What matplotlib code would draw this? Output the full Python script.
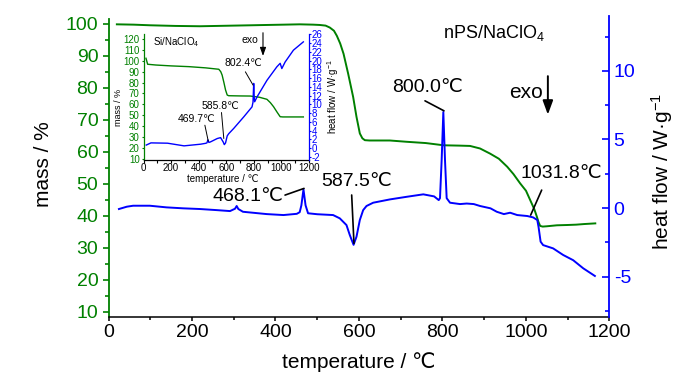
import numpy as np
import matplotlib
matplotlib.use('Agg')
import matplotlib.pyplot as plt
from matplotlib.ticker import MultipleLocator
from matplotlib.transforms import offset_copy

plt.rcParams['font.family'] = ['Liberation Sans', 'DejaVu Sans']
plt.rcParams['mathtext.fontset'] = 'custom'
plt.rcParams['mathtext.rm'] = 'Liberation Sans'
plt.rcParams['mathtext.it'] = 'Liberation Sans:italic'
plt.rcParams['axes.unicode_minus'] = False

GREEN = '#008000'
BLUE = '#0000ff'
NARROW = ['Liberation Sans Narrow', 'Liberation Sans', 'DejaVu Sans']

# ---------------- main data (nPS/NaClO4) ----------------
tga_T = [20, 60, 100, 160, 219, 260, 300, 340, 379, 420, 458, 490, 506, 520, 530, 540, 547, 555,
         563, 574, 586, 594, 602, 608, 614, 625, 640, 674, 714, 760, 803, 840, 866, 890, 914, 935,
         955, 970, 986, 1000, 1010, 1020, 1026, 1030, 1034, 1040, 1050, 1074, 1100, 1120, 1140, 1166]
tga_m = [99.8, 99.7, 99.5, 99.3, 99.2, 99.3, 99.4, 99.5, 99.6, 99.7, 99.8, 99.7, 99.6, 99.4, 98.8,
         97.8, 96.2, 93.8, 90.6, 84.4, 77.1, 70.9, 65.7, 64.2, 63.6, 63.5, 63.5, 63.5, 63.1, 62.7,
         62.0, 61.9, 61.8, 61.0, 59.4, 57.8, 55.3, 53.0, 50.1, 47.8, 44.9, 42.0, 39.7, 38.0, 36.8,
         36.6, 36.7, 37.0, 37.1, 37.2, 37.4, 37.6]

dsc_T = [25, 44, 59, 99, 139, 179, 219, 259, 291, 303, 307, 311, 322, 379, 419, 451, 458, 462,
         467, 472, 478, 500, 538, 554, 570, 578, 587, 594, 602, 610, 618, 634, 674, 714, 754, 780,
         791, 794, 798, 802, 806, 810, 818, 842, 858, 875, 890, 915, 930, 947, 962, 979, 1003,
         1017, 1027, 1030, 1035, 1041, 1065, 1089, 1113, 1137, 1165]
dsc_h = [-0.07, 0.1, 0.17, 0.17, 0.05, -0.02, -0.07, -0.15, -0.22, -0.05, 0.15, -0.07, -0.27,
         -0.44, -0.51, -0.42, -0.3, 0.2, 1.36, 0.2, -0.38, -0.45, -0.51, -0.75, -1.24, -1.97,
         -2.68, -2.09, -0.87, -0.15, 0.15, 0.39, 0.63, 0.82, 1.0, 0.85, 0.58, 0.72, 3.5, 7.0, 3.5,
         0.72, 0.39, 0.29, 0.33, 0.29, 0.15, -0.02, -0.27, -0.44, -0.34, -0.51, -0.58, -0.68,
         -0.87, -1.36, -2.45, -2.7, -2.94, -3.42, -3.8, -4.39, -4.95]

main_ann_T = [468.1, 587.5, 800.0, 1031.8]
main_ann_kind = ['max', 'min', 'max', 'interp']

# ---------------- inset data (Si/NaClO4) ----------------
in_tga_T = [18, 30, 90, 200, 330, 450, 546, 560, 570, 583, 595, 607, 618, 700, 775, 840, 895, 920,
            943, 970, 991, 1010, 1039, 1100, 1159]
in_tga_m = [102.3, 96.8, 96.1, 95.3, 94.6, 93.5, 92.2, 90.0, 86.9, 80.0, 73.1, 68.5, 67.9, 67.7,
            67.6, 66.5, 64.6, 61.5, 57.8, 52.5, 48.6, 48.4, 48.4, 48.4, 48.4]

in_dsc_T = [20, 54, 174, 294, 414, 450, 460, 467, 474, 486, 535, 559, 578, 586, 595, 607, 618,
            654, 727, 787, 794, 799, 803, 806, 823, 895, 967, 991, 1003, 1027, 1087, 1159]
in_dsc_h = [0.7, 1.2, 1.13, 0.52, 0.9, 1.1, 1.2, 1.9, 1.3, 1.43, 2.2, 2.4, 1.4, 0.8, 1.2, 2.8,
            3.3, 4.5, 7.15, 9.44, 10.5, 14.8, 11.5, 10.6, 11.7, 15.5, 18.6, 19.4, 18.2, 19.7,
            22.4, 24.3]

in_ann_T = [469.7, 585.8, 802.4]
in_ann_kind = ['max', 'min', 'max']

x_ticks = [0, 200, 400, 600, 800, 1000, 1200]


def anchor(T, xs, ys, kind, win=12):
    xs = np.asarray(xs, float)
    ys = np.asarray(ys, float)
    sel = np.abs(xs - T) <= win
    if kind == 'max':
        return T, ys[sel].max()
    if kind == 'min':
        return T, ys[sel].min()
    return T, float(np.interp(T, xs, ys))


def leader(axh, pt, start, end, text, text_off, fs, ha='center', lw=1.0):
    tr = offset_copy(axh.transData, fig=fig, x=end[0], y=end[1], units='dots')
    axh.annotate('', xy=pt, xycoords=tr,
                 xytext=(start[0] - end[0], start[1] - end[1]), textcoords='offset pixels',
                 arrowprops=dict(arrowstyle='-', shrinkA=0, shrinkB=0, lw=lw, color='k'))
    axh.annotate(text, xy=pt, xytext=text_off, textcoords='offset pixels',
                 ha=ha, va='center', fontsize=fs, color='k')


fig = plt.figure(figsize=(7, 3.74), dpi=100)
ax = fig.add_axes([0.155, 0.1532, 0.7157, 0.804])
ax2 = ax.twinx()

ax.plot(tga_T, tga_m, color=GREEN, lw=1.4)
ax2.plot(dsc_T, dsc_h, color=BLUE, lw=1.4)

ax.set_xlim(0, 1200)
ax.set_ylim(8.44, 102.4)
ax2.set_ylim(-7.92, 14.0)

for a in (ax, ax2):
    a.spines['top'].set_visible(False)
ax.spines['right'].set_visible(False)
ax2.spines['left'].set_visible(False)
ax2.spines['bottom'].set_visible(False)
ax.spines['left'].set_color(GREEN)
ax.spines['left'].set_linewidth(1.3)
ax.spines['left'].set_bounds(8.44, 101.4)
ax.spines['bottom'].set_linewidth(1.1)
ax2.spines['right'].set_color(BLUE)
ax2.spines['right'].set_linewidth(1.3)

ax.set_xticks(x_ticks)
ax.xaxis.set_minor_locator(MultipleLocator(100))
ax.set_yticks(np.arange(10, 101, 10))
ax.yaxis.set_minor_locator(MultipleLocator(5))
ax2.set_yticks([-5, 0, 5, 10])
ax2.yaxis.set_minor_locator(MultipleLocator(2.5))

ax.tick_params(axis='x', which='major', direction='out', length=3.2, width=1.1, labelsize=14, pad=2)
ax.tick_params(axis='x', which='minor', direction='out', length=2.2, width=1.1)
ax.tick_params(axis='y', which='major', direction='out', length=4.3, width=1.2, colors=GREEN,
               labelsize=14, pad=3)
ax.tick_params(axis='y', which='minor', direction='out', length=2.8, width=1.2, colors=GREEN)
ax2.tick_params(axis='y', which='major', direction='in', length=4.7, width=1.2, colors=BLUE,
                labelsize=14, pad=3)
ax2.tick_params(axis='y', which='minor', direction='in', length=2.9, width=1.2, colors=BLUE)

ax.set_xlabel('temperature / ℃', fontsize=15)
ax.xaxis.label.set_va('center')
ax.xaxis.set_label_coords(0.499, -0.152)
ax.set_ylabel('mass / %', fontsize=15)
ax.yaxis.label.set_va('center')
ax.yaxis.set_label_coords(-0.129, 0.509)
ax2.set_ylabel('heat flow / W·g$^{-1}$', fontsize=15)
ax2.yaxis.label.set_va('center')
ax2.yaxis.set_label_coords(1.104, 0.483)

# main annotations: (start offset, end offset, text offset, ha)
main_geom = [((-18.9, -5.7), (0.1, 1.0), (-20.9, -7.4), 'right'),
             ((-2.1, 49.8), (0.2, 1.5), (3.2, 63.1), 'center'),
             ((-17.5, 11.2), (1.5, 1.2), (-14.5, 24.9), 'center'),
             ((2.4, 42.0), (-8.6, 17.0), (22.0, 59.0), 'center')]
for T, kind, g in zip(main_ann_T, main_ann_kind, main_geom):
    pt = anchor(T, dsc_T, dsc_h, kind)
    leader(ax2, pt, g[0], g[1], '%.1f℃' % T, g[2], 14, ha=g[3], lw=1.2)

ax.text(0.770, 0.943, 'nPS/NaClO$_4$', transform=ax.transAxes, ha='center', va='center',
        fontsize=13)
ax.text(0.868, 0.746, 'exo', transform=ax.transAxes, ha='right', va='center', fontsize=15)
ax.annotate('', xy=(0.877, 0.672), xycoords='axes fraction', xytext=(0.877, 0.800),
            textcoords='axes fraction',
            arrowprops=dict(arrowstyle='-|>,head_length=0.6,head_width=0.22', color='k', lw=1.4,
                            shrinkA=0, shrinkB=0, mutation_scale=14))

# ---------------- inset ----------------
axi = fig.add_axes([143.5 / 700, (374 - 159.5) / 374, 165.5 / 700, 125.5 / 374])
axi.set_facecolor('white')
axi2 = axi.twinx()
axi.plot(in_tga_T, in_tga_m, color=GREEN, lw=1.0)
axi2.plot(in_dsc_T, in_dsc_h, color=BLUE, lw=1.0)
axi.set_xlim(0, 1200)
axi.set_ylim(9.3, 124.6)
axi2.set_ylim(-2.6, 26.1)
for a in (axi, axi2):
    a.spines['top'].set_visible(False)
axi.spines['right'].set_visible(False)
axi2.spines['left'].set_visible(False)
axi2.spines['bottom'].set_visible(False)
axi.spines['left'].set_color(GREEN)
axi2.spines['right'].set_color(BLUE)
for s in ('left', 'bottom'):
    axi.spines[s].set_linewidth(0.9)
axi2.spines['right'].set_linewidth(0.9)

axi.set_xticks(x_ticks)
axi.xaxis.set_minor_locator(MultipleLocator(100))
axi.set_yticks(np.arange(10, 121, 10))
axi2.set_yticks(np.arange(-2, 27, 2))
axi.tick_params(axis='x', which='both', direction='out', length=1.8, width=0.8, labelsize=7, pad=1)
axi.tick_params(axis='y', which='major', direction='out', length=1.8, width=0.8, colors=GREEN,
                labelsize=7, pad=1)
axi2.tick_params(axis='y', which='major', direction='out', length=1.5, width=0.8, colors=BLUE,
                 labelsize=7, pad=0.5)
for lbl in axi.get_xticklabels() + axi.get_yticklabels() + axi2.get_yticklabels():
    lbl.set_family(NARROW)

axi.set_xlabel('temperature / ℃', fontsize=7)
axi.xaxis.label.set_va('center')
axi.xaxis.set_label_coords(0.477, -0.155)
axi.set_ylabel('mass / %', fontsize=6.5)
axi.yaxis.label.set_va('center')
axi.yaxis.set_label_coords(-0.150, 0.418)
axi2.set_ylabel('heat flow / W·g$^{-1}$', fontsize=7)
axi2.yaxis.label.set_va('center')
axi2.yaxis.set_label_coords(1.144, 0.498)

in_geom = [((-3.4, 14.6), (0.0, -1.4), (-11.9, 20.6)),
           ((-2.8, 32.1), (-0.5, 6.1), (-4.1, 38.4)),
           ((-8.8, 11.6), (-1.1, -1.7), (-10.3, 20.0))]
for T, kind, g in zip(in_ann_T, in_ann_kind, in_geom):
    pt = anchor(T, in_dsc_T, in_dsc_h, kind)
    leader(axi2, pt, g[0], g[1], '%.1f℃' % T, g[2], 7.5, lw=0.7)

axi.text(0.200, 0.934, 'Si/NaClO$_4$', transform=axi.transAxes, ha='center', va='center',
         fontsize=7)
axi.text(0.692, 0.952, 'exo', transform=axi.transAxes, ha='right', va='center', fontsize=7.5)
axi.annotate('', xy=(0.722, 0.825), xycoords='axes fraction', xytext=(0.722, 1.01),
             textcoords='axes fraction',
             arrowprops=dict(arrowstyle='-|>,head_length=0.5,head_width=0.18', color='k', lw=0.8,
                             shrinkA=0, shrinkB=0, mutation_scale=10))

fig.savefig('out.png', dpi=100)
